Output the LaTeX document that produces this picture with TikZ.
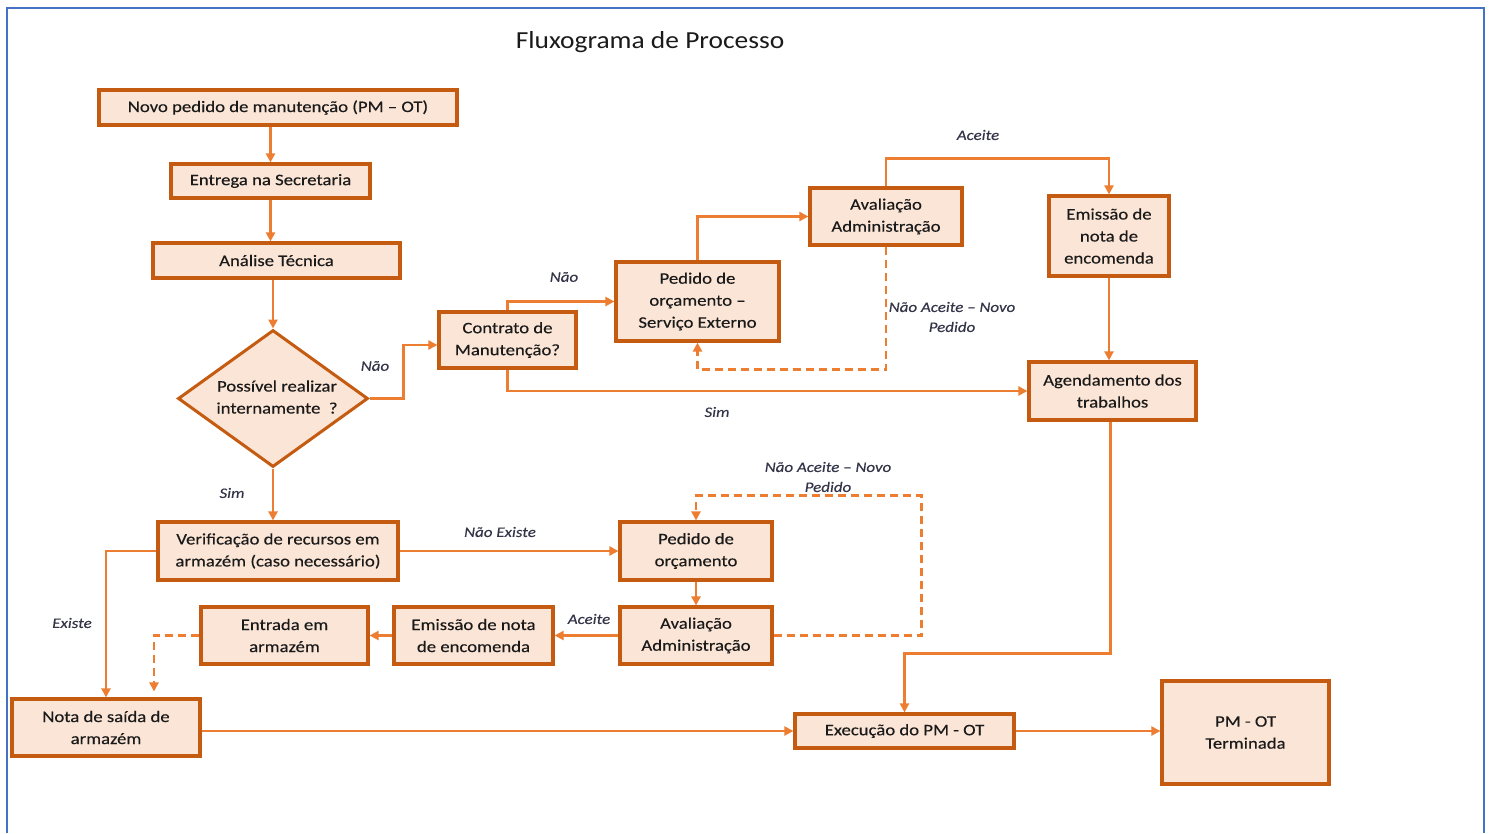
\documentclass[tikz,border=0pt]{standalone}
\usepackage{fontspec}
\setmainfont{Carlito}[FakeStretch=1.17, FakeBold=0.35]
\newfontfamily\headfont{Carlito}[FakeStretch=1.12]
\usetikzlibrary{arrows.meta,shapes.geometric,calc}
\definecolor{boxline}{HTML}{C55A11}
\definecolor{boxfill}{HTML}{FBE5D6}
\definecolor{wire}{HTML}{ED7D31}
\definecolor{ink}{HTML}{1A1A1A}
\definecolor{note}{HTML}{35354A}
\definecolor{frame}{HTML}{4472C4}
\tikzset{
  stepbox/.style={draw=boxline, fill=boxfill, line width=3.2pt, align=center,
    inner sep=0pt, text=ink, font=\fontsize{16}{22}\selectfont},
  choice/.style={stepbox, diamond, line width=3pt},
  conn/.style={draw=wire, line width=2.8pt, -{Triangle[length=9pt,width=9pt]}},
  back/.style={conn, dash pattern=on 8pt off 5pt},
  tag/.style={text=note, font=\fontsize{14.5}{20}\selectfont\itshape, align=center, inner sep=0pt}
}
\begin{document}
\begin{tikzpicture}[x=1pt,y=-1pt]
\useasboundingbox (0,0) rectangle (1493,833);
% outer frame
\draw[frame, line width=2pt] (7,833) -- (7,8) -- (1484,8) -- (1484,833);

\node[font=\headfont\fontsize{24.5}{28}\selectfont, text=ink] (title) at (650,42) {Fluxograma de Processo};

% process boxes
\node[stepbox, minimum width=358pt, minimum height=35pt] (n1) at (278,107.5) {Novo pedido de manutenção (PM – OT)};
\node[stepbox, minimum width=199pt, minimum height=34pt] (n2) at (270.5,181) {Entrega na Secretaria};
\node[stepbox, minimum width=247pt, minimum height=35pt] (n3) at (276.5,260.5) {Análise Técnica};
\node[choice, minimum width=190pt, minimum height=137pt] (d) at (273,398.5) {};
\node[text=ink, font=\fontsize{16}{22}\selectfont, align=center] (dtext) at (277,397) {Possível realizar\\internamente\ \ ?};
\node[stepbox, minimum width=137pt, minimum height=56pt] (ctr) at (507.5,340) {Contrato de\\Manutenção?};
\node[stepbox, minimum width=163pt, minimum height=79pt] (pext) at (697.5,301.5) {Pedido de\\orçamento –\\Serviço Externo};
\node[stepbox, minimum width=152pt, minimum height=57pt] (aval1) at (886,216.5) {Avaliação\\Administração};
\node[stepbox, minimum width=120pt, minimum height=80pt] (em1) at (1109,236) {Emissão de\\nota de\\encomenda};
\node[stepbox, minimum width=167pt, minimum height=58pt] (ag) at (1112.5,391) {Agendamento dos\\trabalhos};
\node[stepbox, minimum width=240pt, minimum height=58pt] (ver) at (278,551) {Verificação de recursos em\\armazém (caso necessário)};
\node[stepbox, minimum width=152pt, minimum height=58pt] (ped2) at (696,551) {Pedido de\\orçamento};
\node[stepbox, minimum width=152pt, minimum height=57pt] (aval2) at (696,635.5) {Avaliação\\Administração};
\node[stepbox, minimum width=159pt, minimum height=57pt] (em2) at (473.5,635.5) {Emissão de nota\\de encomenda};
\node[stepbox, minimum width=167pt, minimum height=57pt] (ent) at (284.5,635.5) {Entrada em\\armazém};
\node[stepbox, minimum width=188pt, minimum height=57pt] (nsa) at (106,727.5) {Nota de saída de\\armazém};
\node[stepbox, minimum width=219pt, minimum height=34pt] (exe) at (904.5,731) {Execução do PM - OT};
\node[stepbox, minimum width=167pt, minimum height=103pt] (fim) at (1245.5,732.5) {PM - OT\\Terminada};

% main flow
\draw[conn] (n2.north |- n1.south) -- (n2.north);
\draw[conn] (n2.south) -- (n2.south |- n3.north);
\draw[conn] (d.north |- n3.south) -- (d.north);
\draw[conn] (d.east) -- ++(34,0) |- ($(ctr.west)+(0,5)$);
\draw[conn] (ctr.north) |- (pext.west);
\draw[conn] (ctr.south) |- (ag.west);
\draw[conn] (pext.north) |- (aval1.west);
\draw[conn] (aval1.north) -- ++(0,-28) -| (em1.north);
\draw[back] (aval1.south) -- ++(0,123) -| (pext.south);
\draw[conn] (em1.south) -- (em1.south |- ag.north);
\draw[conn] ($(ag.south)+(-2,0)$) -- ++(0,232) -| (exe.north);
\draw[conn] (d.south) -- (d.south |- ver.north);
\draw[conn] (ver.east) -- (ped2.west);
\draw[conn] (ver.west) -| (nsa.north);
\draw[conn] (ped2.south) -- (aval2.north);
\draw[conn] (aval2.west) -- (em2.east);
\draw[conn] (em2.west) -- (ent.east);
\draw[back] (ent.west) -| ($(nsa.north)+(48,-6)$);
\draw[back] (aval2.east) -- ++(148,0) -- ++(0,-140) -| (ped2.north);
\draw[conn] (nsa.east |- exe.west) -- (exe.west);
\draw[conn] (exe.east) -- (fim.west |- exe.east);

% branch labels
\node[tag] (l1) at (375,366) {Não};
\node[tag] (l2) at (564,277) {Não};
\node[tag] (l3) at (717,412) {Sim};
\node[tag] (l4) at (978,135) {Aceite};
\node[tag] (l5) at (952,317) {Não Aceite – Novo\\Pedido};
\node[tag] (l6) at (232,493) {Sim};
\node[tag] (l7) at (500,532) {Não Existe};
\node[tag] (l8) at (72,623) {Existe};
\node[tag] (l9) at (589,619) {Aceite};
\node[tag] (l10) at (828,477) {Não Aceite – Novo\\Pedido};
\end{tikzpicture}
\end{document}
